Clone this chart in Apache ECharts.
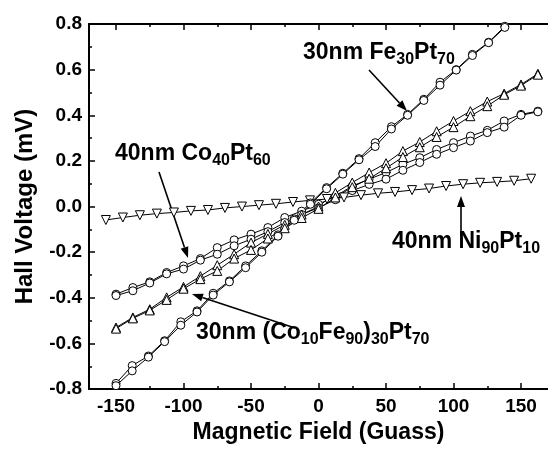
<!DOCTYPE html>
<html>
<head>
<meta charset="utf-8">
<script src="https://cdn.jsdelivr.net/npm/echarts@6/dist/echarts.min.js"></script>
<style>
  html, body { margin: 0; padding: 0; background: #fff; }
  #main { width: 548px; height: 449px; }
</style>
</head>
<body>
<div id="main"></div>
<script>
// Hall voltage vs magnetic field
var fieldFe = [-150, -138, -126, -114, -102, -90, -78, -66, -54, -42, -30, -18, -6,
  6, 18, 30, 42, 54, 66, 78, 90, 102, 114, 126, 138];
var feA = [-0.775, -0.697, -0.655, -0.588, -0.505, -0.457, -0.38, -0.326, -0.26, -0.194, -0.124, -0.054, 0.016,
  0.083, 0.146, 0.21, 0.28, 0.35, 0.404, 0.47, 0.545, 0.60, 0.667, 0.72, 0.79];
var feB = [-0.785, -0.72, -0.66, -0.592, -0.52, -0.462, -0.388, -0.33, -0.268, -0.2, -0.13, -0.06, 0.01,
  0.078, 0.142, 0.205, 0.263, 0.34, 0.40, 0.465, 0.532, 0.598, 0.662, 0.718, 0.785];

var fieldCo = [-150, -137.5, -125, -112.5, -100, -87.5, -75, -62.5, -50, -37.5, -25, -12.5, 0,
  12.5, 25, 37.5, 50, 62.5, 75, 87.5, 100, 112.5, 125, 137.5, 150, 162.5];
var cfA = [-0.53, -0.486, -0.45, -0.398, -0.352, -0.305, -0.257, -0.209, -0.158, -0.12, -0.08, -0.035, 0.0,
  0.06, 0.105, 0.149, 0.19, 0.243, 0.283, 0.33, 0.375, 0.418, 0.46, 0.495, 0.535, 0.582];
var cfB = [-0.535, -0.49, -0.455, -0.409, -0.36, -0.318, -0.282, -0.228, -0.19, -0.14, -0.095, -0.05, -0.01,
  0.04, 0.085, 0.122, 0.168, 0.217, 0.26, 0.305, 0.348, 0.396, 0.44, 0.49, 0.53, 0.578];
var coA = [-0.384, -0.355, -0.33, -0.289, -0.26, -0.228, -0.18, -0.146, -0.121, -0.092, -0.048, -0.02, 0.01,
  0.045, 0.09, 0.12, 0.149, 0.185, 0.214, 0.25, 0.28, 0.309, 0.334, 0.375, 0.404, 0.418];
var coB = [-0.39, -0.369, -0.335, -0.295, -0.274, -0.235, -0.209, -0.172, -0.143, -0.11, -0.07, -0.035, -0.005,
  0.03, 0.07, 0.097, 0.12, 0.159, 0.193, 0.229, 0.258, 0.287, 0.324, 0.348, 0.40, 0.415];

var fieldNi = [-157.5, -144.9, -132.3, -119.7, -107.1, -94.5, -81.9, -69.3, -56.7, -44.1, -31.5, -18.9, -6.3,
  6.3, 18.9, 31.5, 44.1, 56.7, 69.3, 81.9, 94.5, 107.1, 119.7, 132.3, 144.9, 157.5];
var ni = [-0.059, -0.048, -0.038, -0.031, -0.026, -0.019, -0.015, -0.006, 0.0, 0.006, 0.012, 0.02, 0.027,
  0.033, 0.04, 0.05, 0.058, 0.064, 0.072, 0.079, 0.09, 0.098, 0.104, 0.108, 0.113, 0.122];

var xMajor = [-150, -100, -50, 0, 50, 100, 150];
var xMinor = [-125, -75, -25, 25, 75, 125];

var FONT = '"Liberation Sans", Arial, sans-serif';
var myChart = echarts.init(document.getElementById('main'));

function pairs(xs, ys) {
  return xs.map(function (x, i) { return [x, ys[i]]; });
}

function line(name, xs, ys, symbol, rotate) {
  return {
    name: name,
    type: 'line',
    data: pairs(xs, ys),
    symbol: symbol,
    symbolRotate: rotate || 0,
    symbolSize: symbol === 'circle' ? 8 : 9,
    lineStyle: { color: '#000', width: 1 },
    itemStyle: { color: '#fff', borderColor: '#000', borderWidth: 1 },
    animation: false
  };
}

// label with subscripts: parts alternate normal / subscript
function label(x, baseline, parts) {
  var txt = parts.map(function (p, i) {
    return (i % 2 === 0 ? '{a|' : '{s|') + p + '}';
  }).join('');
  return {
    type: 'text', left: x, top: baseline - 21,
    style: {
      text: txt,
      rich: {
        a: { fontFamily: FONT, fontWeight: 'bold', fontSize: 23, lineHeight: 27, verticalAlign: 'top', fill: '#000' },
        s: { fontFamily: FONT, fontWeight: 'bold', fontSize: 16, lineHeight: 19, padding: [11, 0, 0, 0], verticalAlign: 'top', fill: '#000' }
      }
    }
  };
}

function arrow(x1, y1, x2, y2) {
  var a = Math.atan2(y2 - y1, x2 - x1), L = 11, W = 4;
  var bx = x2 - L * Math.cos(a), by = y2 - L * Math.sin(a);
  var nx = -Math.sin(a) * W, ny = Math.cos(a) * W;
  return {
    type: 'group',
    children: [
      { type: 'line', shape: { x1: x1, y1: y1, x2: bx, y2: by }, style: { stroke: '#000', lineWidth: 1.6 } },
      { type: 'polygon', shape: { points: [[x2, y2], [bx + nx, by + ny], [bx - nx, by - ny]] }, style: { fill: '#000' } }
    ]
  };
}

var hidden = { show: false };
function xAx(pos, values, len, main) {
  return {
    type: 'value', position: pos, min: -170, max: 170,
    axisLine: { show: main, onZero: false, lineStyle: { color: '#000', width: 2 } },
    axisTick: { show: true, inside: true, length: len, customValues: values, lineStyle: { color: '#000', width: 1.5 } },
    axisLabel: main && pos === 'bottom' ? {
      show: true, customValues: values, margin: 8, color: '#000',
      fontFamily: FONT, fontWeight: 'bold', fontSize: 19
    } : hidden,
    splitLine: hidden,
    name: main && pos === 'bottom' ? 'Magnetic Field (Guass)' : '',
    nameLocation: 'middle', nameGap: 31,
    nameTextStyle: { color: '#000', fontFamily: FONT, fontWeight: 'bold', fontSize: 23 }
  };
}

myChart.setOption({
  backgroundColor: '#fff',
  animation: false,
  grid: { left: 89, right: -10, top: 24, bottom: 59 },
  xAxis: [
    xAx('bottom', xMajor, 6, true),
    xAx('bottom', xMinor, 3, false),
    xAx('top', xMajor, 6, true),
    xAx('top', xMinor, 3, false)
  ],
  yAxis: {
    type: 'value', min: -0.8, max: 0.8, interval: 0.2,
    axisLine: { show: true, onZero: false, lineStyle: { color: '#000', width: 2 } },
    axisTick: { show: true, inside: true, length: 6, lineStyle: { color: '#000', width: 1.5 } },
    minorTick: { show: true, splitNumber: 2, length: 3, lineStyle: { color: '#000', width: 1.5 } },
    axisLabel: {
      margin: 7, color: '#000', fontFamily: FONT, fontWeight: 'bold', fontSize: 19,
      formatter: function (v) { return v.toFixed(1); }
    },
    splitLine: hidden,
    name: 'Hall Voltage (mV)', nameLocation: 'middle', nameGap: 52,
    nameTextStyle: { color: '#000', fontFamily: FONT, fontWeight: 'bold', fontSize: 24 }
  },
  series: [
    line('Ni90Pt10', fieldNi, ni, 'triangle', 180),
    line('Co40Pt60 a', fieldCo, coA, 'circle'),
    line('Co40Pt60 b', fieldCo, coB, 'circle'),
    line('(Co10Fe90)30Pt70 a', fieldCo, cfA, 'triangle'),
    line('(Co10Fe90)30Pt70 b', fieldCo, cfB, 'triangle'),
    line('Fe30Pt70 a', fieldFe, feA, 'circle'),
    line('Fe30Pt70 b', fieldFe, feB, 'circle')
  ],
  graphic: [
    label(303, 62, ['30nm Fe', '30', 'Pt', '70']),
    arrow(369, 70, 407, 111),
    label(115, 163, ['40nm Co', '40', 'Pt', '60']),
    arrow(159, 172, 188, 258),
    label(196, 342, ['30nm (Co', '10', 'Fe', '90', ')', '30', 'Pt', '70']),
    arrow(295, 328, 192, 294),
    label(392, 251, ['40nm Ni', '90', 'Pt', '10']),
    arrow(461, 236, 461, 196)
  ]
});
</script>
</body>
</html>
